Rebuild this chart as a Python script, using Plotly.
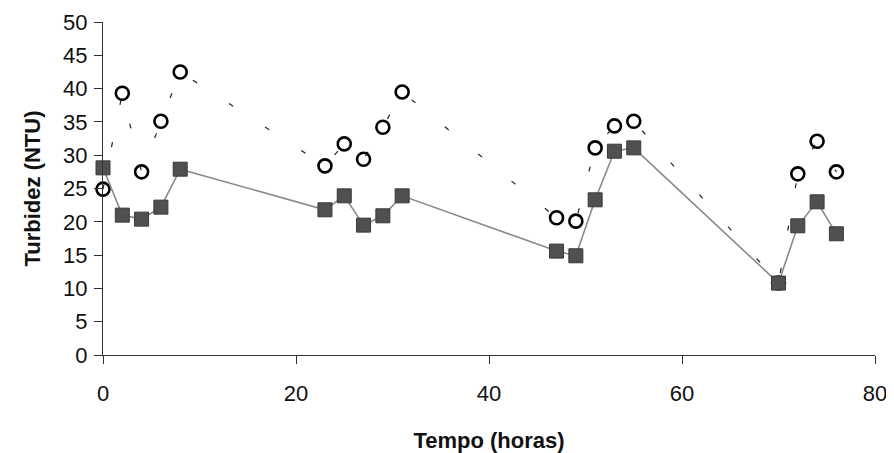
import plotly.graph_objects as go

# Time (hours)
tempo = [0, 2, 4, 6, 8, 23, 25, 27, 29, 31, 47, 49, 51, 53, 55, 70, 72, 74, 76]
# Square series (filled)
turb_quad = [28.1, 21.0, 20.4, 22.2, 27.9, 21.8, 23.9, 19.5, 20.9, 23.9,
             15.6, 14.9, 23.3, 30.6, 31.1, 10.8, 19.4, 23.0, 18.2]
# Circle series (open)
turb_circ = [24.9, 39.3, 27.5, 35.1, 42.5, 28.4, 31.7, 29.4, 34.2, 39.5,
             20.6, 20.1, 31.1, 34.4, 35.1, 10.8, 27.2, 32.1, 27.5]

x_ticks = [0, 20, 40, 60, 80]
y_ticks = list(range(0, 51, 5))

FONT = "Liberation Sans"

fig = go.Figure()

fig.add_trace(go.Scatter(
    x=tempo, y=turb_circ, mode="lines+markers",
    line=dict(color="#222222", width=1.2, dash="5px,38px"),
    marker=dict(symbol="circle-open", size=13, color="black", line=dict(width=2.6)),
    cliponaxis=False, showlegend=False,
))

fig.add_trace(go.Scatter(
    x=tempo, y=turb_quad, mode="lines+markers",
    line=dict(color="#8a8a8a", width=1.6),
    marker=dict(symbol="square", size=14, color="#505050",
                line=dict(color="#3a3a3a", width=1)),
    cliponaxis=False, showlegend=False,
))

fig.update_layout(
    width=886, height=445,
    margin=dict(l=95, r=19, t=14, b=98, autoexpand=False),
    paper_bgcolor="white", plot_bgcolor="white",
    font=dict(family=FONT, size=22, color="#111111"),
    xaxis=dict(
        range=[0, 80], tickvals=x_ticks, showgrid=False, zeroline=False,
        showline=True, linecolor="#333333", linewidth=1.2,
        ticks="outside", ticklen=8, tickcolor="#333333", automargin=False,
        ticklabelstandoff=10,
        title=dict(text="<b>Tempo (horas)</b>", font=dict(size=22), standoff=30),
    ),
    yaxis=dict(
        range=[0, 50], tickvals=y_ticks, showgrid=False, zeroline=False,
        showline=True, linecolor="#333333", linewidth=1.2,
        ticks="outside", ticklen=8, tickcolor="#333333", automargin=False,
        ticklabelstandoff=2,
        title=dict(text="<b>Turbidez (NTU)</b>", font=dict(size=22), standoff=16),
    ),
)

fig.write_html("out.html")
